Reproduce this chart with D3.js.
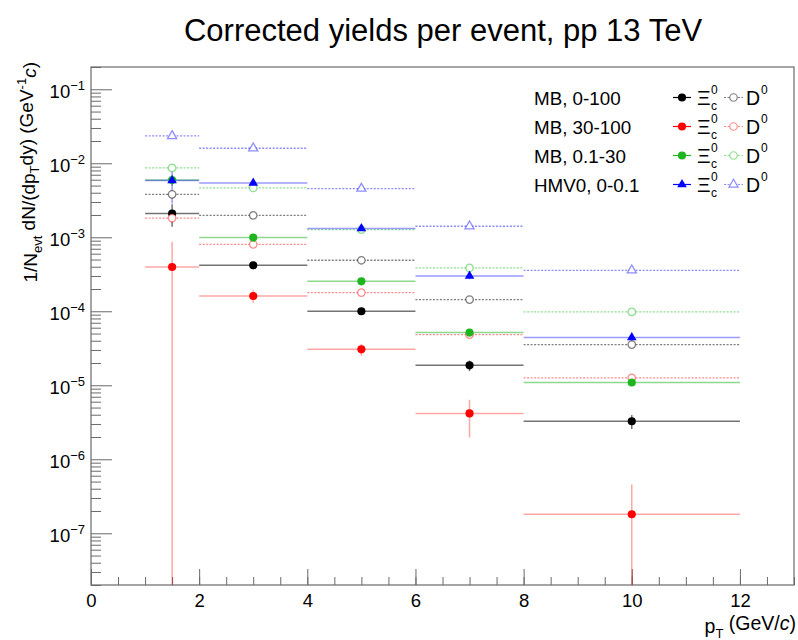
<!DOCTYPE html>
<html><head><meta charset="utf-8">
<script src="https://cdn.jsdelivr.net/npm/d3@7"></script>
<style>body{margin:0;background:#fff}svg{display:block;font-family:"Liberation Sans",Arial,Helvetica,sans-serif}</style>
</head><body><svg id="c" width="798" height="640"></svg>
<script>
// ---------------- data ----------------
const binLow = [1, 2, 4, 6, 8];
const binHigh = [2, 4, 6, 8, 12];
const ptCenter = [1.5, 3, 5, 7, 10];
const classLabels = ["MB, 0-100", "MB, 30-100", "MB, 0.1-30", "HMV0, 0-0.1"];

const xicMB = [2.09e-3, 4.19e-4, 1.0e-4, 1.86e-5, 3.27e-6];
const xicMBErr = [0.7e-3, 0.5e-4, 1.0e-5, 3.0e-6, 0.7e-6];
const xic30100 = [3.97e-4, 1.61e-4, 3.06e-5, 4.17e-6, 1.81e-7];
const xic30100Err = [4.7e-4, 3.1e-5, 5.5e-6, 2.2e-6, 2.75e-7];
const xic0130 = [5.94e-3, 9.9e-4, 2.54e-4, 5.15e-5, 1.09e-5];
const xic0130Err = [1.0e-3, 1.0e-4, 2.5e-5, 5.0e-6, 1.0e-6];
const xicHM = [5.85e-3, 5.42e-3, 1.31e-3, 3.0e-4, 4.41e-5];
const xicHMErr = [3.0e-3, 6.0e-4, 1.3e-4, 3.0e-5, 5.0e-6];

const d0MB = [3.81e-3, 1.98e-3, 4.89e-4, 1.44e-4, 3.55e-5];
const d0MBErr = [1.5e-4, 8e-5, 2e-5, 6e-6, 1.5e-6];
const d030100 = [1.82e-3, 8.04e-4, 1.79e-4, 4.84e-5, 1.26e-5];
const d030100Err = [8e-5, 3e-5, 7e-6, 2e-6, 6e-7];
const d00130 = [8.65e-3, 4.64e-3, 1.27e-3, 3.85e-4, 9.8e-5];
const d00130Err = [3e-4, 1.5e-4, 4e-5, 1.2e-5, 3e-6];
const d0HM = [2.34e-2, 1.595e-2, 4.55e-3, 1.41e-3, 3.58e-4];
const d0HMErr = [1e-3, 6e-4, 1.5e-4, 5e-5, 1.2e-5];

const xTickValues = [0, 2, 4, 6, 8, 10, 12];
const yDecades = [1e-7, 1e-6, 1e-5, 1e-4, 1e-3, 1e-2, 1e-1];

// ---------------- styles ----------------
const classStyles = [
  {marker: "#000000", line: "rgba(0,0,0,0.55)", open: "rgba(0,0,0,0.5)", sym: "circle"},
  {marker: "#ff0000", line: "rgba(255,0,0,0.35)", open: "rgba(255,0,0,0.45)", sym: "circle"},
  {marker: "#1fb51f", line: "rgba(30,180,30,0.5)", open: "rgba(30,190,30,0.5)", sym: "circle"},
  {marker: "#0000ff", line: "rgba(0,0,255,0.4)", open: "rgba(0,0,255,0.45)", sym: "triangle"}
];
const xicSeries = [[xicMB, xicMBErr], [xic30100, xic30100Err], [xic0130, xic0130Err], [xicHM, xicHMErr]];
const d0Series = [[d0MB, d0MBErr], [d030100, d030100Err], [d00130, d00130Err], [d0HM, d0HMErr]];

// ---------------- layout ----------------
const svg = d3.select("#c");
const L = 91, R = 794, T = 67, B = 585;
const x = d3.scaleLinear().domain([0, 13]).range([L, R]);
const y = d3.scaleLog().domain([2e-8, 0.2]).range([B, T]);

svg.append("rect").attr("width", 798).attr("height", 640).attr("fill", "#fff");

svg.append("defs").append("clipPath").attr("id", "pc")
  .append("rect").attr("x", L).attr("y", T).attr("width", R - L).attr("height", B - T);

// Title
svg.append("text").attr("x", 443).attr("y", 41).attr("text-anchor", "middle")
  .attr("font-size", "31px").attr("fill", "#000").text("Corrected yields per event, pp 13 TeV");

// ---------------- axes ----------------
const axisColor = "#6a6a6a";
const xMinor = d3.range(0, 13.001, 0.5);
svg.append("g").attr("transform", `translate(0,${B})`)
  .call(d3.axisBottom(x).tickValues(xMinor).tickSize(-8).tickFormat(""))
  .call(g => { g.select(".domain").remove(); g.selectAll("line").attr("stroke", axisColor); });
svg.append("g").attr("transform", `translate(0,${B})`)
  .call(d3.axisBottom(x).tickValues(xTickValues).tickSize(-16).tickPadding(10).tickFormat(d3.format("d")))
  .call(g => {
    g.select(".domain").remove();
    g.selectAll("line").attr("stroke", axisColor);
    g.selectAll("text").attr("font-size", "18.5px").attr("fill", "#000")
      .attr("font-family", "'Liberation Sans',Arial,sans-serif").attr("y", 9);
  });
const yMinor = [];
for (let e = -8; e <= -1; e++) for (let m = 2; m <= 9; m++) {
  const v = m * Math.pow(10, e);
  if (v >= 2e-8 && v <= 0.2) yMinor.push(v);
}
svg.append("g").attr("transform", `translate(${L},0)`)
  .call(d3.axisLeft(y).tickValues(yMinor).tickSize(-10).tickFormat(""))
  .call(g => { g.select(".domain").remove(); g.selectAll("line").attr("stroke", axisColor); });
svg.append("g").attr("transform", `translate(${L},0)`)
  .call(d3.axisLeft(y).tickValues(yDecades).tickSize(-21).tickPadding(7))
  .call(g => {
    g.select(".domain").remove();
    g.selectAll("line").attr("stroke", axisColor);
    const t = g.selectAll(".tick text").text(null).attr("fill", "#000")
      .attr("font-family", "'Liberation Sans',Arial,sans-serif").attr("font-size", "18.5px")
      .attr("x", -6).attr("dy", "0.42em");
    t.append("tspan").text("10");
    t.append("tspan").attr("dy", "-0.6em").attr("font-size", "13px")
      .text(d => "\u2212" + Math.abs(Math.round(Math.log10(d))));
  });

svg.append("rect").attr("x", L).attr("y", T).attr("width", R - L).attr("height", B - T)
  .attr("fill", "none").attr("stroke", axisColor).attr("stroke-width", 1.2);

// axis titles
const xt = svg.append("text").attr("x", 796).attr("y", 633).attr("text-anchor", "end")
  .attr("font-size", "19.5px").attr("fill", "#000");
xt.append("tspan").text("p");
xt.append("tspan").attr("dy", "0.4em").attr("font-size", "13px").text("T");
xt.append("tspan").attr("dy", "-0.4em").text(" (GeV/");
xt.append("tspan").attr("font-style", "italic").text("c");
xt.append("tspan").text(")");

const yt = svg.append("text").attr("transform", "translate(37,62) rotate(-90)")
  .attr("text-anchor", "end").attr("font-size", "19px").attr("fill", "#000");
yt.append("tspan").text("1/N");
yt.append("tspan").attr("dy", "0.35em").attr("font-size", "13px").text("evt");
yt.append("tspan").attr("dy", "-0.35em").text(" dN/(dp");
yt.append("tspan").attr("dy", "0.35em").attr("font-size", "13px").text("T");
yt.append("tspan").attr("dy", "-0.35em").text("dy) (GeV");
yt.append("tspan").attr("dy", "-0.55em").attr("font-size", "13px").text("-1");
yt.append("tspan").attr("dy", "0.55em").attr("font-style", "italic").text("c");
yt.append("tspan").text(")");

// ---------------- data drawing ----------------
const plot = svg.append("g").attr("clip-path", "url(#pc)");
function symPath(kind, filled) {
  if (kind === "triangle") return d3.symbol(d3.symbolTriangle, filled ? 40 : 36)();
  return d3.symbol(d3.symbolCircle, filled ? 52 : 44)();
}
function drawSeries(vals, errs, st, isD0) {
  const g = plot.append("g");
  const lineColor = isD0 ? st.open : st.line;
  const idx = d3.range(vals.length);
  g.selectAll("line.h").data(idx).join("line")
    .attr("x1", i => x(binLow[i])).attr("x2", i => x(binHigh[i]))
    .attr("y1", i => y(vals[i])).attr("y2", i => y(vals[i]))
    .attr("stroke", lineColor).attr("stroke-width", isD0 ? 1.3 : 1.5)
    .attr("stroke-dasharray", isD0 ? "2,1.5" : null);
  g.selectAll("line.v").data(idx).join("line")
    .attr("x1", i => x(ptCenter[i])).attr("x2", i => x(ptCenter[i]))
    .attr("y1", i => y(vals[i] + errs[i]))
    .attr("y2", i => vals[i] - errs[i] > 0 ? y(vals[i] - errs[i]) : B + 5)
    .attr("stroke", lineColor).attr("stroke-width", isD0 ? 1.3 : 1.5);
}
function drawMarkers(vals, st, isD0) {
  const idx = d3.range(vals.length);
  plot.append("g").selectAll("path").data(idx).join("path")
    .attr("transform", i => `translate(${x(ptCenter[i])},${y(vals[i])})`)
    .attr("d", symPath(st.sym, !isD0))
    .attr("fill", isD0 ? "#fff" : st.marker)
    .attr("stroke", isD0 ? st.open : "none").attr("stroke-width", 1.3);
}
classStyles.forEach((st, k) => {
  drawSeries(d0Series[k][0], d0Series[k][1], st, true);
  drawSeries(xicSeries[k][0], xicSeries[k][1], st, false);
});
classStyles.forEach((st, k) => {
  drawMarkers(d0Series[k][0], st, true);
  drawMarkers(xicSeries[k][0], st, false);
});

// ---------------- legend ----------------
const leg = svg.append("g");
classLabels.forEach((lab, k) => {
  const st = classStyles[k];
  const cy = 97.5 + k * 29;
  leg.append("text").attr("x", 534).attr("y", cy + 7).attr("font-size", "18.8px").attr("fill", "#000").text(lab);
  leg.append("line").attr("x1", 673).attr("x2", 691).attr("y1", cy).attr("y2", cy)
    .attr("stroke", st.marker).attr("stroke-width", 1.2);
  leg.append("path").attr("transform", `translate(682,${cy})`).attr("d", symPath(st.sym, true)).attr("fill", st.marker);
  leg.append("text").attr("x", 697).attr("y", cy + 7).attr("font-size", "21px").attr("fill", "#000").text("\u039E");
  leg.append("text").attr("x", 711).attr("y", cy - 4).attr("font-size", "12px").attr("fill", "#000").text("0");
  leg.append("text").attr("x", 711).attr("y", cy + 12).attr("font-size", "12px").attr("fill", "#000").text("c");
  leg.append("line").attr("x1", 724).attr("x2", 743).attr("y1", cy).attr("y2", cy)
    .attr("stroke", st.open).attr("stroke-width", 1.2).attr("stroke-dasharray", "2,1.5");
  leg.append("path").attr("transform", `translate(733.5,${cy})`).attr("d", symPath(st.sym, false))
    .attr("fill", "#fff").attr("stroke", st.open).attr("stroke-width", 1.2);
  leg.append("text").attr("x", 746).attr("y", cy + 7).attr("font-size", "19.5px").attr("fill", "#000").text("D");
  leg.append("text").attr("x", 761).attr("y", cy - 4).attr("font-size", "12px").attr("fill", "#000").text("0");
});
</script></body></html>
